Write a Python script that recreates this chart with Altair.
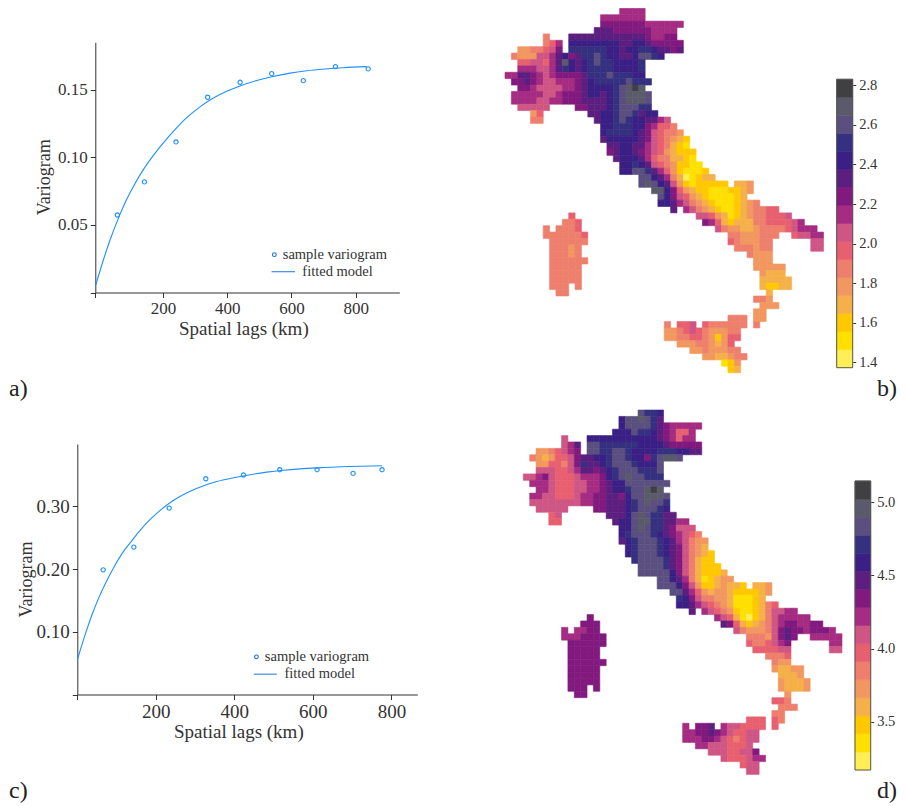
import altair as alt
import pandas as pd

# ---------- variogram a ----------
A_LAG = [57.7, 141.9, 240.5, 339, 440, 538.5, 637, 737, 839]
A_GAMMA = [.0574, .0819, .1115, .1446, .1557, .1621, .1569, .1673, .1656]
A_FIT_X = [-10.8, 14.1, 34.9, 60.8, 86.8, 112.8, 138.7, 169.9, 201, 232.9, 273.7, 315.3, 356.8, 398.3, 439.8, 491.8, 538.5, 595.6, 647.5, 704.6, 761.8, 834.4]
A_FIT_Y = [.0047, .0241, .0389, .0549, .0690, .0808, .0910, .1015, .1108, .1195, .1295, .1375, .1440, .1490, .1530, .1570, .1598, .1625, .1642, .1655, .1665, .1673]
# ---------- variogram c ----------
C_LAG = [65.9, 144, 234, 327.3, 423.2, 515.7, 610.7, 702.4, 776.2]
C_GAMMA = [.1988, .2350, .2972, .3440, .3499, .3584, .3584, .3525, .3584]
C_FIT_X = [0, 21, 37.9, 54.9, 71.9, 93.1, 114.3, 135.5, 161, 186.4, 211.9, 241.6, 275.5, 305.2, 355.3, 397.7, 440.2, 482.6, 525, 567.4, 609.9, 694.7, 776.2]
C_FIT_Y = [.055, .0975, .1280, .1545, .1775, .2030, .2250, .2425, .2625, .2795, .2940, .3080, .3205, .3290, .3395, .3455, .3505, .3545, .3575, .3597, .3613, .3635, .3648]

COLORS = ["#FFEE55", "#FFE000", "#FFC800", "#F5B04A", "#F2975F", "#EE7F6D", "#E8606F", "#CF5585",
          "#A52C82", "#82197E", "#5C1F80", "#3A1F85", "#35307F", "#5B4F80", "#5A5A6A", "#404043"]

# each row: "column:classes" runs; classes are hex digits indexing COLORS
MAP_B = [
"18:8888", "15:8888888", "15:9999999888888", "14:AAA9999998888",
"6:5 10:AAAAAAAAAAAA98899", "6:568 10:BBBBBBBBAABBA99999",
"2:4455679 10:CCCCCCBBABBCCBAA9A", "1:5444778AB9ACCDCBBAABDDCB", "2:667768AEBABCDCCBBBBC",
"2:888778ACBABCCCCBBBBC", "0:88AA98789999ACCCDCCCBB", "1:99A98778889ABCCCCCDCCC",
"2:9987777889ABBBBCDEFE", "1:88888778999ABBABCDEEED", "1:88887788999AAAABCDEEED",
"2:77777 11:99AAABCDDDCC", "4:46 13:AABBCDDCABB", "4:55 14:ABBCDCBBAA87",
"15:BBCCCBB98665", "15:BCCCCBA976554", "15:ABBBBBA9765432", "16:AABBAA8765321",
"16:9ABBA987643222", "17:ABBBA86553321", "18:BBCBA76542211", "18:BBDDCA86421112",
"21:DDBA85301233", "21:DEDBA742122222 36:334", "23:EEB9643221112234", "24:DB976432111123",
"24:BBA8754321112345", "26:A 28:875432112345566", "10:6 30:776431234556667",
"9:556 31:9863233355666678", "6:5 8:5556 33:7544334555567888",
"6:5555556 35:55444555 45:67788", "7:555555 35:6544455 48:77", "7:55545 36:555455 48:77",
"7:55545 38:5444", "7:555555 39:444", "7:55555 39:44444", "7:55555 40:4333", "7:55555 40:33333",
"7:555 11:5 40:32233", "8:55 41:3", "39:554", "40:444", "39:44", "35:555 39:44",
"25:5 27:667 31:6555555 39:5", "25:445676544455", "25:445566542466", "27:444554346",
"29:44544455", "31:4433455", "34:124", "35:23",
]
MAP_D = [
"18:DCCB", "15:BDDEDCA", "15:BDDDDCA988888", "14:BBBDCCBA98668",
"6:7 10:BBBBBBBBBBBA98688", "6:78A 10:DDCCCCCCBBBBA99999",
"2:4456789 10:DDCCDDCBBBBCCCBBAA", "1:54346679AABBCDDCBB9CDEED", "2:4466579CAABCDDDCBBBD",
"2:7776678AA9ABCDDDCCCD", "0:7789766678889BCDEDDCCC", "1:888766677889ABBDDDDDDD",
"2:88766677889ABBCDDEFE", "1:887766678899AA9BDDEEED", "1:777777778899AAABCDEDDC",
"2:77777 11:99AAABCDDDCB", "4:67 13:AAABDEDCCAA", "4:66 14:ABBDEECCAA88",
"15:BBDEDCCA9777", "15:BCDDDCBA98765", "15:ABCDDDCBA87544", "16:BCDDDCBA97543",
"16:BCDDDCBA975432", "17:CDDDDCA975322", "18:DDDDCA9753222", "18:DDDDDB97532223",
"21:DDBA85312344", "21:DDDB9742234332 36:334", "23:DDA8643443222234", "24:CB975544311123",
"24:BBA8765431112356", "26:A 28:876542112357788", "10:9 30:876310235788888",
"9:999 31:A963234578998899", "6:8 8:8899 33:75444579A9989998",
"6:8889999 35:555479A9 45:88888", "7:999999 35:6556789 48:88", "7:99999 36:666677 48:77",
"7:99999 38:5556", "7:999999 39:544", "7:99999 39:43344", "7:99999 40:3334", "7:99999 40:43334",
"7:999 11:9 40:43334", "8:99 41:4", "39:665", "40:555", "39:55", "35:666 39:65",
"25:8 27:99A 31:8776666 39:6", "25:8899A9876677", "25:888998765677", "27:887776667",
"29:77766779", "31:7666788", "34:677", "35:77",
]

B_RANGE = [1.373, 2.83]
D_RANGE = [3.17, 5.146]
B_TICKS = [1.4, 1.6, 1.8, 2.0, 2.2, 2.4, 2.6, 2.8]
D_TICKS = [3.5, 4.0, 4.5, 5.0]

FONT = "Liberation Serif"
TXT = "#333333"
BLUE = "#1E8FFF"
W, H = 891, 795


def PX(x):
    return x - 8


def PY(y):
    return y - 8


def map_table(rows, rng):
    step = (rng[1] - rng[0]) / 16
    out = []
    for r, row in enumerate(rows):
        for seg in row.split():
            start, codes = seg.split(":")
            for i, ch in enumerate(codes):
                c = int(start) + i
                out.append({"c": c, "c2": c + 1, "r": r, "r2": r + 1,
                            "v": rng[0] + (int(ch, 16) + .5) * step})
    return pd.DataFrame(out)


def map_layer(rows, rng, x0, x1, y0, y1):
    cs = alt.Scale(type="quantize", domain=rng, range=COLORS)
    xs = alt.Scale(domain=[0, 50], range=[PX(x0), PX(x1)], nice=False, zero=False)
    ys = alt.Scale(domain=[0, 57], range=[PY(y0), PY(y1)], nice=False, zero=False)
    return alt.Chart(map_table(rows, rng)).mark_rect(strokeWidth=.6).encode(
        x=alt.X("c:Q", scale=xs, axis=None),
        x2="c2:Q",
        y=alt.Y("r:Q", scale=ys, axis=None),
        y2="r2:Q",
        color=alt.Color("v:Q", scale=cs, legend=None),
        stroke=alt.Stroke("v:Q", scale=cs, legend=None),
    )


def colorbar(rng, ticks, x0, x1, y_top, y_bot, size):
    step = (rng[1] - rng[0]) / 16
    df = pd.DataFrame({"lo": [rng[0] + k * step for k in range(16)],
                       "hi": [rng[0] + (k + 1) * step for k in range(16)],
                       "v": [rng[0] + (k + .5) * step for k in range(16)],
                       "x": [0] * 16, "x2": [1] * 16})
    xs = alt.Scale(domain=[0, 1], range=[PX(x0), PX(x1)], nice=False, zero=False)
    ys = alt.Scale(domain=rng, range=[PY(y_bot), PY(y_top)], nice=False, zero=False)
    cs = alt.Scale(type="quantize", domain=rng, range=COLORS)
    bar = alt.Chart(df).mark_rect(strokeWidth=.6).encode(
        x=alt.X("x:Q", scale=xs, axis=None), x2="x2:Q",
        y=alt.Y("lo:Q", scale=ys, axis=alt.Axis(
            orient="right", offset=-(W - PX(x1)), values=ticks, format=".1f", title=None, grid=False,
            domain=False, tickSize=3, tickColor=TXT, labelFont=FONT, labelFontSize=size,
            labelColor=TXT, labelPadding=3)),
        y2="hi:Q",
        color=alt.Color("v:Q", scale=cs, legend=None),
        stroke=alt.Stroke("v:Q", scale=cs, legend=None),
    )
    frame = alt.Chart(pd.DataFrame({"x": [0], "x2": [1], "lo": [rng[0]], "hi": [rng[1]]})).mark_rect(
        fillOpacity=0, fill="white", stroke="#555555", strokeWidth=1).encode(
        x=alt.X("x:Q", scale=xs, axis=None), x2="x2:Q",
        y=alt.Y("lo:Q", scale=ys, axis=None), y2="hi:Q",
    )
    return [bar, frame]


def variogram(lag, gam, fx, fy, xd, xr, yd, yr, xvals, yvals, lab_size, tx, ty_x, ty_y, tx_y, leg):
    xs = alt.Scale(domain=xd, range=[PX(xr[0]), PX(xr[1])], nice=False, zero=False)
    ys = alt.Scale(domain=yd, range=[PY(yr[0]), PY(yr[1])], nice=False, zero=False)
    xax = alt.Axis(orient="bottom", offset=-(H - PY(yr[0])), values=xvals, title="Spatial lags (km)",
                   labelExpr="datum.value < 100 ? '' : datum.label", format="d", grid=False,
                   domainColor=TXT, tickColor=TXT, tickSize=5, labelFont=FONT, labelFontSize=lab_size,
                   labelColor=TXT, labelPadding=3, labelOverlap=False, titleFont=FONT, titleFontSize=19,
                   titleFontWeight="normal", titleColor=TXT, titleX=PX(tx), titleY=tx_y,
                   titleBaseline="middle", titleAnchor="middle", titleAlign="center")
    yax = alt.Axis(orient="left", offset=-PX(xr[0]), values=yvals, title="Variogram",
                   labelExpr="datum.value == 0 ? '' : format(datum.value, '.2f')", grid=False,
                   domainColor=TXT, tickColor=TXT, tickSize=5, labelFont=FONT, labelFontSize=lab_size,
                   labelColor=TXT, labelPadding=3, labelOverlap=False, titleFont=FONT, titleFontSize=18,
                   titleFontWeight="normal", titleColor=TXT, titleX=ty_x, titleY=PY(ty_y),
                   titleBaseline="middle", titleAnchor="middle", titleAlign="center")
    X = lambda ax=None: alt.X("x:Q", scale=xs, axis=ax)
    Y = lambda ax=None: alt.Y("y:Q", scale=ys, axis=ax)
    line = alt.Chart(pd.DataFrame({"x": fx, "y": fy})).mark_line(
        color=BLUE, strokeWidth=1.1, interpolate="monotone").encode(x=X(xax), y=Y(yax))
    pts = alt.Chart(pd.DataFrame({"x": lag, "y": gam})).mark_point(
        shape="circle", filled=False, color=BLUE, size=18, strokeWidth=1.1, opacity=1).encode(x=X(), y=Y())
    leg_pt = alt.Chart(pd.DataFrame({"x": [leg["px"]], "y": [leg["py"]]})).mark_point(
        shape="circle", filled=False, color="#1F6FD8", size=14, strokeWidth=1.1, opacity=1).encode(x=X(), y=Y())
    leg_ln = alt.Chart(pd.DataFrame({"x": leg["lx"], "y": [leg["ly"]] * 2})).mark_line(
        color="#2F80E0", strokeWidth=1.1).encode(x=X(), y=Y())
    leg_tx = alt.Chart(pd.DataFrame({"x": leg["tx"], "y": [leg["py"], leg["ly"]],
                                     "t": ["sample variogram", "fitted model"]})).mark_text(
        align="left", baseline="middle", font=FONT, fontSize=14.5, color=TXT).encode(
        x=X(), y=Y(), text="t:N")
    return [line, pts, leg_pt, leg_ln, leg_tx]


layers = []
layers += variogram(A_LAG, A_GAMMA, A_FIT_X, A_FIT_Y, [-11, 936], [95.3, 399.3], [0, .1853], [292.5, 42.3],
                    [-11, 200, 400, 600, 800], [0, .05, .10, .15], 17,
                    243.3, -51.3, 176.7, 36,
                    {"px": 546.7, "py": .028, "lx": [538, 611], "ly": .0154, "tx": [572.9, 634]})
layers += variogram(C_LAG, C_GAMMA, C_FIT_X, C_FIT_Y, [0, 866], [77.3, 417.3], [0, .3994], [694.5, 444],
                    [0, 200, 400, 600, 800], [0, .10, .20, .30], 19,
                    238.3, -50.6, 579, 37,
                    {"px": 456.2, "py": .06, "lx": [449.6, 508.2], "ly": .0324, "tx": [477.6, 527.6]})
layers.append(map_layer(MAP_B, B_RANGE, 505, 823.5, 8.33, 372.7))
layers.append(map_layer(MAP_D, D_RANGE, 523.3, 842, 410, 774.4))
layers += colorbar(B_RANGE, B_TICKS, 836.7, 852.7, 79.3, 367.7, 14.5)
layers += colorbar(D_RANGE, D_TICKS, 855, 870.7, 481, 770, 14.5)

PANEL_TAGS = ["a)", "b)", "c)", "d)"]
TAG_X = [9, 877, 9, 877]
TAG_Y = [396, 396, 798, 798]
for t, px, py in zip(PANEL_TAGS, TAG_X, TAG_Y):
    layers.append(alt.Chart(pd.DataFrame({"t": [t]})).mark_text(
        align="left", baseline="alphabetic", font=FONT, fontSize=24, color="#222222").encode(
        x=alt.value(PX(px)), y=alt.value(PY(py)), text="t:N"))

chart = alt.layer(*layers).resolve_scale(
    x="independent", y="independent", color="independent", stroke="independent"
).properties(
    width=W, height=H, padding=0, background="white", autosize=alt.AutoSizeParams(type="none")
).configure_view(stroke=None)

chart.save("out.html", embed_options={"renderer": "svg", "actions": False})
